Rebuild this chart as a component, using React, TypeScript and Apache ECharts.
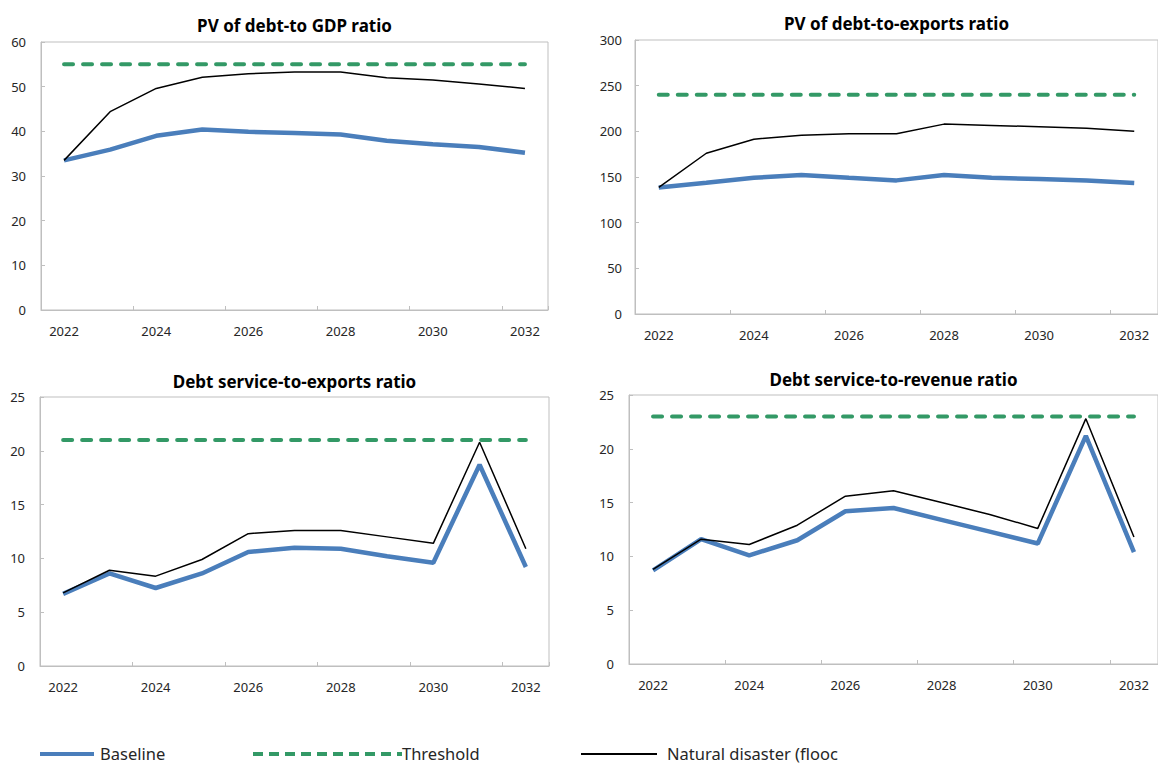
import React, { useEffect, useRef } from "react";
import * as echarts from "echarts";

const years = ["2022", "2023", "2024", "2025", "2026", "2027", "2028", "2029", "2030", "2031", "2032"];

const titles = [
  "PV of debt-to GDP ratio",
  "PV of debt-to-exports ratio",
  "Debt service-to-exports ratio",
  "Debt service-to-revenue ratio",
];

const gdpBaseline = [33.5, 35.9, 39.0, 40.4, 39.9, 39.6, 39.3, 37.9, 37.1, 36.5, 35.2];
const gdpNatural = [33.5, 44.4, 49.6, 52.1, 52.9, 53.3, 53.3, 52.0, 51.5, 50.6, 49.6];
const gdpThreshold = [55, 55, 55, 55, 55, 55, 55, 55, 55, 55, 55];

const expBaseline = [138.6, 143.7, 149.2, 152.2, 149.2, 146.3, 152.2, 149.2, 147.8, 146.3, 143.4];
const expNatural = [138.6, 176.0, 191.4, 195.8, 197.3, 197.3, 207.9, 206.5, 205.0, 203.5, 200.2];
const expThreshold = [240, 240, 240, 240, 240, 240, 240, 240, 240, 240, 240];

const dsExpBaseline = [6.7, 8.6, 7.25, 8.6, 10.6, 11.0, 10.9, 10.2, 9.6, 18.7, 9.2];
const dsExpNatural = [6.8, 8.9, 8.35, 9.9, 12.3, 12.6, 12.6, 12.0, 11.4, 20.8, 10.9];
const dsExpThreshold = [21, 21, 21, 21, 21, 21, 21, 21, 21, 21, 21];

const dsRevBaseline = [8.7, 11.6, 10.1, 11.5, 14.2, 14.5, 13.4, 12.3, 11.2, 21.2, 10.4];
const dsRevNatural = [8.8, 11.6, 11.1, 12.9, 15.6, 16.1, 15.0, 13.9, 12.6, 22.8, 11.8];
const dsRevThreshold = [23, 23, 23, 23, 23, 23, 23, 23, 23, 23, 23];

const yMax = [60, 300, 25, 25];
const yInterval = [10, 50, 5, 5];

const legendNames = ["Baseline", "Threshold", "Natural disaster (flooc"];

const panels = [
  { baseline: gdpBaseline, natural: gdpNatural, threshold: gdpThreshold },
  { baseline: expBaseline, natural: expNatural, threshold: expThreshold },
  { baseline: dsExpBaseline, natural: dsExpNatural, threshold: dsExpThreshold },
  { baseline: dsRevBaseline, natural: dsRevNatural, threshold: dsRevThreshold },
];

const gridBoxes = [
  { left: 41, top: 42, width: 507, height: 268, titleY: 25, labelMargin: 15 },
  { left: 635, top: 40, width: 523, height: 274, titleY: 23, labelMargin: 13 },
  { left: 40, top: 397, width: 509, height: 269, titleY: 381, labelMargin: 15 },
  { left: 629, top: 395, width: 529, height: 269, titleY: 379, labelMargin: 15 },
];

const FONT = "'Noto Sans', 'Open Sans', sans-serif";
const BLUE = "#4A7EBB";
const GREEN = "#339966";
const BORDER = "#BFBFBF";
const TEXT = "#262626";

export default function App() {
  const ref = useRef<HTMLDivElement>(null);

  useEffect(() => {
    if (!ref.current) return;
    const chart = echarts.init(ref.current, null, { renderer: "svg", width: 1158, height: 764 });

    const grid = gridBoxes.map((g) => ({
      left: g.left,
      top: g.top,
      width: g.width,
      height: g.height,
      show: true,
      borderColor: BORDER,
      borderWidth: 1,
      backgroundColor: "transparent",
      containLabel: false,
    }));

    const xAxis = gridBoxes.map((g, i) => ({
      type: "category",
      gridIndex: i,
      data: years,
      boundaryGap: true,
      axisLine: { show: true, lineStyle: { color: BORDER, width: 1 } },
      axisTick: { show: true, inside: true, interval: 1, length: 4, lineStyle: { color: BORDER } },
      axisLabel: { interval: 1, margin: 14, color: TEXT, fontSize: 13, fontFamily: FONT },
      splitLine: { show: false },
    }));

    const yAxis = gridBoxes.map((g, i) => ({
      type: "value",
      gridIndex: i,
      min: 0,
      max: yMax[i],
      interval: yInterval[i],
      axisLine: { show: true, lineStyle: { color: BORDER, width: 1 } },
      axisTick: { show: true, inside: true, length: 4, lineStyle: { color: BORDER } },
      axisLabel: { margin: g.labelMargin, color: TEXT, fontSize: 13, fontFamily: FONT },
      splitLine: { show: false },
    }));

    const series: any[] = [];
    panels.forEach((p, i) => {
      series.push({
        type: "line",
        name: legendNames[0],
        xAxisIndex: i,
        yAxisIndex: i,
        data: p.baseline,
        symbol: "none",
        lineStyle: { color: BLUE, width: 4.5 },
        z: 2,
      });
      series.push({
        type: "line",
        name: legendNames[1],
        xAxisIndex: i,
        yAxisIndex: i,
        data: p.threshold,
        symbol: "none",
        lineStyle: { color: GREEN, width: 4, type: [9, 10], cap: "round" },
        z: 3,
      });
      series.push({
        type: "line",
        name: legendNames[2],
        xAxisIndex: i,
        yAxisIndex: i,
        data: p.natural,
        symbol: "none",
        lineStyle: { color: "#000000", width: 1.5 },
        z: 4,
      });
    });

    const graphic: any[] = [];
    gridBoxes.forEach((g, i) => {
      graphic.push({
        type: "text",
        x: g.left + g.width / 2,
        y: g.titleY,
        style: {
          text: titles[i],
          align: "center",
          verticalAlign: "middle",
          font: `bold 17px ${FONT}`,
          fill: "#000000",
        },
      });
    });

    const legendY = 753;
    graphic.push(
      { type: "line", shape: { x1: 40, y1: legendY + 1, x2: 94, y2: legendY + 1 }, style: { stroke: BLUE, lineWidth: 4 } },
      { type: "text", x: 100, y: legendY, style: { text: legendNames[0], verticalAlign: "middle", font: `16.5px ${FONT}`, fill: TEXT } },
      { type: "line", shape: { x1: 253, y1: legendY + 1, x2: 402, y2: legendY + 1 }, style: { stroke: GREEN, lineWidth: 4, lineDash: [10, 6] } },
      { type: "text", x: 402, y: legendY, style: { text: legendNames[1], verticalAlign: "middle", font: `16.5px ${FONT}`, fill: TEXT } },
      { type: "line", shape: { x1: 581, y1: legendY + 1, x2: 657, y2: legendY + 1 }, style: { stroke: "#000000", lineWidth: 2 } },
      { type: "text", x: 667, y: legendY, style: { text: legendNames[2], verticalAlign: "middle", font: `16.5px ${FONT}`, fill: TEXT } }
    );

    chart.setOption({
      animation: false,
      backgroundColor: "#ffffff",
      textStyle: { fontFamily: FONT },
      grid,
      xAxis,
      yAxis,
      series,
      graphic,
    });

    return () => {
      chart.dispose();
    };
  }, []);

  return (
    <div
      ref={ref}
      style={{ position: "absolute", left: 0, top: 0, width: 1158, height: 764, background: "#ffffff" }}
    />
  );
}
